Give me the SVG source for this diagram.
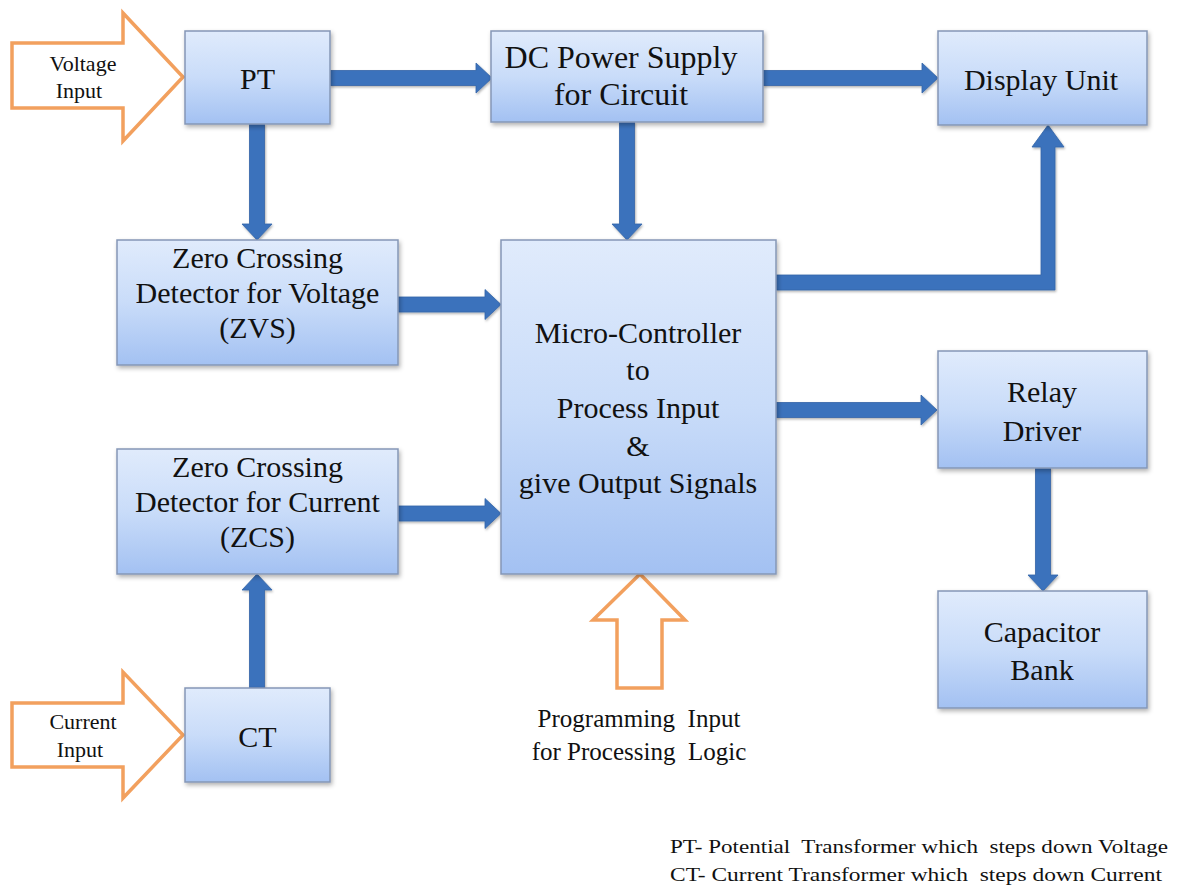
<svg xmlns="http://www.w3.org/2000/svg" width="1179" height="886" viewBox="0 0 1179 886">
  <defs>
    <linearGradient id="boxFill" x1="0" y1="0" x2="0" y2="1">
      <stop offset="0" stop-color="#e0ebfc"/>
      <stop offset="0.5" stop-color="#c9dcf9"/>
      <stop offset="1" stop-color="#a3c1f2"/>
    </linearGradient>
    <filter id="shadow" x="-10%" y="-10%" width="125%" height="130%">
      <feDropShadow dx="1.5" dy="2.5" stdDeviation="2" flood-color="#000" flood-opacity="0.3"/>
    </filter>
    <filter id="arrowShadow" x="-10%" y="-10%" width="130%" height="130%">
      <feDropShadow dx="1" dy="1.5" stdDeviation="1.2" flood-color="#000" flood-opacity="0.3"/>
    </filter>
  </defs>
  <style>
    .box { fill: url(#boxFill); stroke: #8597b6; stroke-width: 1.5; filter: url(#shadow); }
    .lbl { font-family: "Liberation Serif", "Times New Roman", serif; font-size: 30px; fill: #111111; text-anchor: middle; }
    .big { font-size: 32px; }
    .small { font-family: "Liberation Serif", "Times New Roman", serif; font-size: 22px; fill: #111111; text-anchor: middle; }
    .prog { font-family: "Liberation Serif", "Times New Roman", serif; font-size: 25px; fill: #111111; text-anchor: middle; white-space: pre; }
    .note { font-family: "Liberation Serif", "Times New Roman", serif; font-size: 19px; fill: #111111; white-space: pre; }
    .flow { fill: #3b72bc; stroke: #3265a8; stroke-width: 0.8; filter: url(#arrowShadow); }
    .input { fill: #ffffff; stroke: #f2a05e; stroke-width: 3.5; stroke-linejoin: miter; }
  </style>

  <rect width="1179" height="886" fill="#ffffff"/>

  <!-- block arrows between blocks -->
  <g id="connectors">
    <!-- PT to DC power supply -->
    <polygon class="flow" points="330,70.5 476,70.5 476,63 492,78 476,93 476,85.5 330,85.5"/>
    <!-- DC power supply to display -->
    <polygon class="flow" points="763,70.5 922,70.5 922,63 938,78 922,93 922,85.5 763,85.5"/>
    <!-- PT down to ZVS -->
    <polygon class="flow" points="249.5,124 249.5,224 242,224 257,240 272,224 264.5,224 264.5,124"/>
    <!-- DC power supply down to micro-controller -->
    <polygon class="flow" points="619.5,122 619.5,224 612,224 627,240 642,224 634.5,224 634.5,122"/>
    <!-- ZVS to micro-controller -->
    <polygon class="flow" points="398,297 485,297 485,289.5 501,304.5 485,319.5 485,312 398,312"/>
    <!-- ZCS to micro-controller -->
    <polygon class="flow" points="398,506 485,506 485,498.5 501,513.5 485,528.5 485,521 398,521"/>
    <!-- CT up to ZCS -->
    <polygon class="flow" points="249.5,688 249.5,590 242,590 257,574 272,590 264.5,590 264.5,688"/>
    <!-- micro-controller to relay driver -->
    <polygon class="flow" points="776,402.5 921,402.5 921,395 937,410 921,425 921,417.5 776,417.5"/>
    <!-- micro-controller up to display unit -->
    <polygon class="flow" points="776,275 1041,275 1041,147 1032,147 1048,125 1064,147 1055,147 1055,290 776,290"/>
    <!-- relay driver down to capacitor bank -->
    <polygon class="flow" points="1035.5,468 1035.5,575 1028,575 1043,591 1058,575 1050.5,575 1050.5,468"/>
  </g>

  <!-- hollow input arrows -->
  <g id="voltage-input">
    <polygon class="input" points="12,43 123,43 123,13 183,77 123,141 123,108 12,108"/>
    <text class="small" x="83" y="71">Voltage</text>
    <text class="small" x="79" y="98">Input</text>
  </g>
  <g id="current-input">
    <polygon class="input" points="12,703 123,703 123,672 183,735 123,798 123,767 12,767"/>
    <text class="small" x="83" y="729">Current</text>
    <text class="small" x="80" y="757">Input</text>
  </g>
  <g id="programming-input">
    <polygon class="input" points="640,574 685,620 662,620 662,688 617,688 617,620 593,620"/>
    <text class="prog" x="639" y="727" xml:space="preserve">Programming  Input</text>
    <text class="prog" x="639" y="760" xml:space="preserve">for Processing  Logic</text>
  </g>

  <!-- blocks -->
  <g id="pt">
    <rect class="box" x="185" y="31" width="145" height="93"/>
    <text class="lbl" x="257.5" y="89">PT</text>
  </g>
  <g id="dc-power-supply">
    <rect class="box" x="491" y="31" width="272" height="91"/>
    <text class="lbl big" x="621" y="68">DC Power Supply</text>
    <text class="lbl big" x="621" y="105">for Circuit</text>
  </g>
  <g id="display-unit">
    <rect class="box" x="938" y="31" width="209" height="94"/>
    <text class="lbl" x="1041" y="90">Display Unit</text>
  </g>
  <g id="zvs">
    <rect class="box" x="117" y="240" width="281" height="125"/>
    <text class="lbl" x="257.5" y="268">Zero Crossing</text>
    <text class="lbl" x="257.5" y="303">Detector for Voltage</text>
    <text class="lbl" x="257.5" y="338">(ZVS)</text>
  </g>
  <g id="micro-controller">
    <rect class="box" x="501" y="240" width="275" height="334"/>
    <text class="lbl" x="638" y="343">Micro-Controller</text>
    <text class="lbl" x="638" y="380">to</text>
    <text class="lbl" x="638" y="418">Process Input</text>
    <text class="lbl" x="638" y="456">&amp;</text>
    <text class="lbl" x="638" y="493">give Output Signals</text>
  </g>
  <g id="relay-driver">
    <rect class="box" x="938" y="351" width="209" height="117"/>
    <text class="lbl" x="1042" y="402">Relay</text>
    <text class="lbl" x="1042" y="441">Driver</text>
  </g>
  <g id="zcs">
    <rect class="box" x="117" y="449" width="281" height="125"/>
    <text class="lbl" x="257.5" y="477">Zero Crossing</text>
    <text class="lbl" x="257.5" y="512">Detector for Current</text>
    <text class="lbl" x="257.5" y="547">(ZCS)</text>
  </g>
  <g id="capacitor-bank">
    <rect class="box" x="938" y="591" width="209" height="117"/>
    <text class="lbl" x="1042" y="642">Capacitor</text>
    <text class="lbl" x="1042" y="680">Bank</text>
  </g>
  <g id="ct">
    <rect class="box" x="185" y="688" width="145" height="94"/>
    <text class="lbl" x="257.5" y="747">CT</text>
  </g>

  <!-- abbreviations -->
  <g id="legend">
    <text class="note" x="670" y="853" textLength="498" lengthAdjust="spacingAndGlyphs" xml:space="preserve">PT- Potential  Transformer which  steps down Voltage</text>
    <text class="note" x="670" y="881" textLength="492" lengthAdjust="spacingAndGlyphs" xml:space="preserve">CT- Current Transformer which  steps down Current</text>
  </g>
</svg>
